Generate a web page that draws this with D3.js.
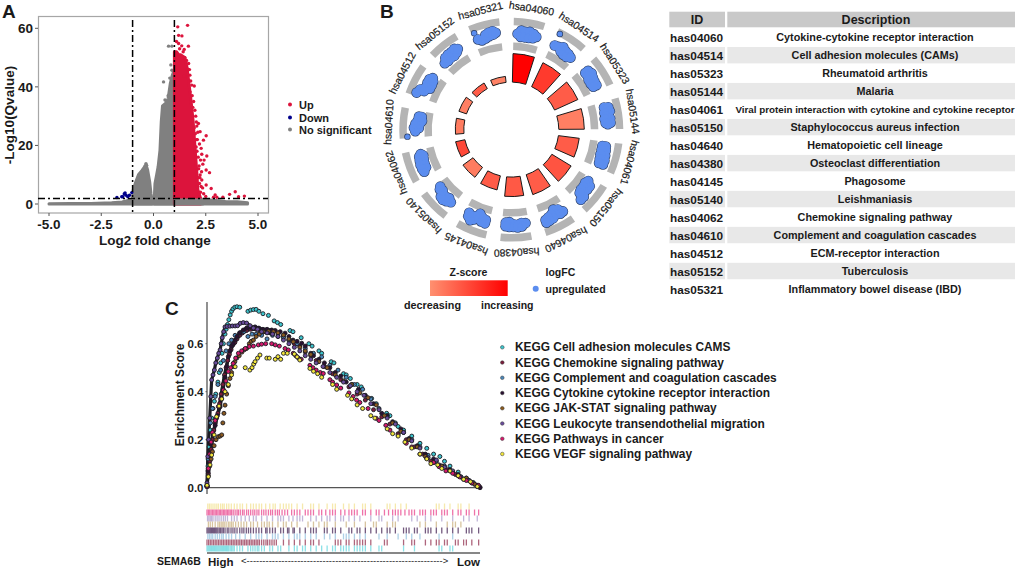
<!DOCTYPE html>
<html><head><meta charset="utf-8">
<script src="https://cdn.jsdelivr.net/npm/d3@7"></script>
<style>
html,body{margin:0;padding:0;background:#fff}
svg{display:block}
text{font-family:"Liberation Sans",Arial,sans-serif;fill:#1a1a1a}
.b{font-weight:700}
</style></head><body>
<svg id="c" width="1017" height="569"></svg>
<script>
// ---------- Panel A: volcano ----------
const volLegend = ["Up","Down","No significant"];
const volColors = ["#dc143c","#00008b","#808080"];
const baseX   = [-5,-4,-3,-2,-1.5,-1,0,1,1.5,2,2.5,3,3.5,4,4.5];
const baseTop = [0.1,0.15,0.2,0.4,0.7,1.6,1.2,1.9,1.9,1.8,1.5,1.2,0.8,0.8,0.4];
const hillLeftX   = [-1,-0.97,-0.85,-0.72,-0.55,-0.42,-0.36,-0.28,-0.18,-0.12,-0.08];
const hillLeftTop = [2,4.8,7.5,10,11.5,12.8,13.4,11.6,7.5,3.5,2];
const hillRightX   = [0.04,0.07,0.15,0.22,0.31,0.37,0.43,0.6,0.7,0.8,0.9,1];
const hillRightTop = [2.2,7,10,12.7,18.4,28,33.5,34.5,36,41,44,46];
const upX   = [1,1.1,1.2,1.3,1.4,1.5,1.6,1.7,1.8,1.9,2,2.08,2.12,2.25];
const upTop = [52,52,51,51,50.5,50,46.8,41,35,28,18,10,5,2];
const upPtsX = [1.16,1.63,1.2,1.36,1.2,1.67,1.47,1.72,1.47,1.83,1.95,1.75,2.15,2.07,2.52,2.39,2.23,2.04,2.31,2.55,2.36,2.68,2.52,2.23,2.76,2.52,2.31,2.95,2.87,3.64,3.91,4.07,4.35,3.32,3.03,2,2.1,2.2,2.28,2.25,2.18,2.3,2.15,2.2,2.35,2.25,2.4,2.5,2.02,1.98,2.05,1.92,1.85,1.78,1.65,1.58,1.5,1.42,1.35,1.1,1.25,2.12,2.42,1.95,2.08,2.14,2.06,2.22,2.16,2.28,2.1,1.88,1.74,1.68];
const upPtsY = [60.5,61,57.6,57.4,54.8,53.9,52.8,45.9,43.6,40.6,40.3,38.3,27.5,26.6,23.3,21.8,24.7,19.5,17,16.4,13.6,10.7,11.6,9.9,5.3,6.5,8.2,3.1,2.3,3.3,4.2,2.5,2.7,2.3,2.3,24,22,20.5,19,15,13,11,9,7,5.5,4,3.5,2.6,30,32,28,35,37,42,46,49,50,52,54,55.5,53,24.5,15,26,18,16,22,9,12,6,6,33,44,48];
const grayPtsX = [0.72,0.88,0.88,0.48,0.78,0.62,0.7,0.55,0.83,-0.36,-0.4,-0.33];
const grayPtsY = [53.9,53.9,45.7,41.7,43,35,37,35.5,47.5,13.8,13,13.2];
const downPtsX = [-1.75,-1.52,-1.4,-1.31,-1.47,-1.15,-1.04,-1.23,-1.36];
const downPtsY = [2.2,2.5,3.4,3,2.5,3,3.9,2.5,3.8];
const volXTicks = [-5,-2.5,0,2.5,5];
const volYTicks = [0,20,40,60];

// ---------- Panel B: circular plot ----------
const pathwayIds = ["hsa04060","hsa04514","hsa05323","hsa05144","hsa04061","hsa05150","hsa04640","hsa04380","hsa04145","hsa05140","hsa04062","hsa04610","hsa04512","hsa05152","hsa05321"];
const barHeights = [28.5,26.5,25.5,25.5,21,22.5,21,19.5,14.5,12.5,9.5,8.5,8,6.5,6];
const zScores = [1,0.6,0.36,0.12,0.36,0.42,0.36,0.38,0.36,0.14,0.5,0.14,0.12,0.36,0.1];
const blobs = [
 [[-.7,.5],[-.45,.75],[-.45,.3],[-.15,.7],[-.15,.3],[.15,.75],[.15,.3],[.45,.65],[.45,.35],[.68,.5]],
 [[-.8,1.3],[-.75,.4],[-.45,.45],[-.15,.6],[-.15,.25],[.15,.45],[.15,.15],[.45,.4],[.45,.15],[.72,.3]],
 [[-.6,.55],[-.6,.3],[-.3,.65],[-.3,.3],[0,.55],[0,.2],[.3,.5],[.3,.2],[.6,.5],[.6,.25]],
 [[-.6,.45],[-.55,.75],[-.25,.8],[-.2,.4],[.05,.5],[.25,.75],[.25,.35],[.55,.75],[.55,.4],[.65,.55]],
 [[-.65,.5],[-.65,.25],[-.35,.55],[-.35,.25],[0,.6],[0,.25],[.35,.65],[.35,.3],[.65,.65],[.65,.35]],
 [[-.7,.25],[-.45,.55],[-.45,.15],[-.15,.55],[-.15,.2],[.15,.5],[.15,.2],[.4,.7],[.4,.3],[.7,.7]],
 [[-.7,.55],[-.45,.25],[-.45,.6],[-.15,.1],[-.15,.5],[.15,.35],[.15,.65],[.45,.45],[.45,.7],[.7,.55],[.7,.75]],
 [[-.75,.4],[-.45,.35],[-.45,.6],[-.15,.45],[-.15,.65],[.15,.4],[.15,.6],[.45,.25],[.45,.6],[.72,.3],[.72,.55]],
 [[-.7,.35],[-.7,.6],[-.4,.25],[-.4,.55],[-.15,.3],[-.15,.05],[.15,.35],[.15,.6],[.35,.75],[.6,.55],[.65,.3]],
 [[-.7,.4],[-.4,.55],[-.4,.25],[-.15,.65],[-.15,.35],[.1,.35],[.1,.6],[.35,.2],[.55,.3],[.7,.15]],
 [[-.65,.55],[-.4,.3],[-.4,.6],[-.1,.3],[-.1,.6],[.2,.55],[.2,.25],[.5,.5],[.5,.2],[.65,.35]],
 [[-.9,1.08],[-.55,.5],[-.3,.6],[-.3,.25],[0,.5],[0,.2],[.25,.35],[.25,.05],[.55,.3],[.55,.1]],
 [[-.75,.9],[-.45,.75],[-.45,.45],[-.1,.45],[-.1,.15],[.2,.5],[.2,.15],[.5,.5],[.5,.2],[.7,.35]],
 [[-.8,.35],[-.5,.3],[-.5,.6],[-.2,.35],[-.2,.65],[.1,.3],[.1,.65],[.4,.4],[.4,.7],[.6,.55]],
 [[-.8,1.02],[-.7,.5],[-.45,.35],[-.15,.4],[-.1,.65],[.15,.5],[.15,.75],[.45,.55],[.45,.8],[.65,.65]]
];

// ---------- Table ----------
const tableIds = ["has04060","has04514","has05323","has05144","has04061","has05150","has04640","has04380","has04145","has05140","has04062","has04610","has04512","has05152","has05321"];
const tableDesc = ["Cytokine-cytokine receptor interaction","Cell adhesion molecules (CAMs)","Rheumatoid arthritis","Malaria","Viral protein interaction with cytokine and cytokine receptor","Staphylococcus aureus infection","Hematopoietic cell lineage","Osteoclast differentiation","Phagosome","Leishmaniasis","Chemokine signaling pathway","Complement and coagulation cascades","ECM-receptor interaction","Tuberculosis","Inflammatory bowel disease (IBD)"];

// ---------- Panel C: GSEA ----------
const gseaNames = ["KEGG Cell adhesion molecules CAMS","KEGG Chemokine signaling pathway","KEGG Complement and coagulation cascades","KEGG Cytokine cytokine receptor interaction","KEGG JAK-STAT signaling pathway","KEGG Leukocyte transendothelial migration","KEGG Pathways in cancer","KEGG VEGF signaling pathway"];
const gseaColors = ["#3cc4cc","#7b1e3c","#4a86b8","#2a1030","#8a5a1f","#6a4c9c","#d6186c","#f2e63a"];
const esCAM = [[0,.01],[.4,.09],[.8,.17],[1.2,.24],[1.7,.29],[2.2,.33],[2.7,.36],[3.2,.39],[4,.44],[4.5,.48],[5,.52],[5.5,.56],[6,.6],[6.6,.64],[7,.66],[7.5,.68],[8,.7],[8.5,.72],[9,.735],[9.5,.745],[10.2,.752],[11,.754],[12,.752],[15,.735],[16,.74],[17,.742],[18,.743],[19,.735],[20.5,.725],[22.5,.718],[24.6,.695],[25.8,.688],[27,.68],[30.4,.655],[31.5,.65],[34.5,.625],[37.3,.6],[38.5,.59],[41,.57],[42,.56],[45.5,.525],[46.5,.52],[50,.475],[51,.47],[52.5,.455],[55,.43],[56.5,.42],[60.3,.372],[62,.35],[65.8,.31],[67,.3],[70,.255],[72,.24],[75,.215],[78,.185],[80.5,.164],[83,.14],[85.3,.13],[87,.11],[89,.09],[92,.065],[95,.04],[97.5,.022],[99.5,.008]];
const esChemokine = [[0,.005],[.5,.06],[1,.11],[1.5,.16],[2,.2],[2.5,.24],[3,.27],[3.5,.29],[4,.31],[4.6,.35],[5.2,.39],[5.8,.43],[6.4,.47],[7,.5],[7.6,.53],[8.2,.555],[8.8,.575],[9.5,.595],[10.2,.605],[11,.62],[12,.635],[13,.645],[14.5,.655],[16,.66],[18,.66],[20,.655],[22,.65],[24,.645],[26,.64],[28,.63],[30,.615],[32,.6],[34,.59],[36,.565],[38,.55],[40,.53],[43,.505],[46,.475],[49,.45],[52,.42],[55,.39],[58,.365],[61,.325],[64,.295],[67,.265],[70,.225],[73,.2],[76,.17],[79,.14],[82,.11],[85,.095],[88,.075],[91,.055],[94,.035],[97,.02],[100,.002]];
const esComplement = [[0,.01],[.4,.12],[.8,.2],[1.3,.27],[2,.33],[3,.38],[4,.43],[5,.49],[6,.53],[7,.57],[8,.6],[9,.615],[10.3,.635],[12,.645],[13.5,.65],[15,.63],[16.5,.64],[18,.64],[20,.635],[22,.62],[24,.635],[26,.63],[28,.625],[30,.615],[33,.6],[36,.58],[39,.56],[42,.545],[45,.51],[48,.49],[51,.46],[54,.43],[57,.41],[60,.37],[63,.33],[66,.3],[69,.27],[72,.23],[75,.2],[78,.17],[81,.135],[84,.11],[87,.09],[90,.065],[93,.045],[96,.03],[99,.01]];
const esCytokine = [[0,.005],[.4,.07],[.9,.13],[1.5,.18],[2.2,.22],[3,.26],[3.8,.3],[4.8,.337],[5.3,.37],[5.9,.41],[6.6,.46],[7.2,.505],[7.8,.546],[8.4,.57],[9,.59],[9.6,.6],[10.3,.615],[11,.63],[12,.645],[13.3,.657],[14.5,.665],[16,.668],[17.6,.67],[19,.665],[20.5,.66],[22,.66],[23.7,.657],[25,.655],[26.8,.65],[28.6,.644],[30,.63],[31.5,.615],[33,.61],[34.7,.602],[36,.59],[38,.56],[39,.55],[41,.535],[43,.52],[45,.5],[47,.48],[49,.465],[51,.44],[53,.43],[55.5,.41],[58,.385],[61,.35],[64,.31],[66,.3],[68,.275],[71,.245],[74,.205],[77,.175],[80,.14],[83,.12],[86,.09],[89,.075],[92,.055],[95,.035],[98,.015],[100,0]];
const esJak = [[0,.005],[.5,.05],[1,.09],[1.5,.12],[2,.15],[2.6,.175],[3.3,.2],[4.15,.2125],[4.8,.215],[5.4,.22],[5.8,.27],[6.2,.31],[6.6,.344],[7.2,.39],[7.8,.425],[8.4,.455],[9,.48],[9.6,.505],[10.2,.525],[10.9,.54],[11.8,.55],[12.8,.565],[13.7,.575],[14.5,.58],[15.5,.6],[16.2,.61],[17,.615],[18,.63],[19.2,.64],[20.6,.65],[22.5,.652],[24.3,.65],[26,.645],[28,.636],[30,.62],[31.6,.608],[34,.585],[36,.57],[38,.555],[41,.525],[44,.5],[47,.47],[50,.445],[53,.43],[56,.395],[59,.375],[62,.345],[65,.3],[68,.27],[71,.235],[74,.2],[77,.17],[80,.13],[83,.105],[86,.09],[89,.07],[92,.05],[95,.04],[98,.015]];
const esLeukocyte = [[0,.02],[.3,.13],[.6,.2],[1,.29],[1.4,.38],[1.7,.449],[2.2,.47],[2.7,.49],[3.2,.52],[3.8,.54],[4.3,.56],[4.8,.574],[5.2,.6],[5.6,.625],[6.1,.65],[6.6,.67],[7.4,.672],[8.4,.673],[9.3,.674],[10.3,.674],[11.2,.675],[12.2,.685],[13.3,.688],[14.5,.686],[15.8,.675],[17,.665],[18.5,.66],[20,.65],[22,.645],[24,.64],[26,.63],[28,.615],[30,.6],[32,.585],[34,.57],[36,.55],[38,.535],[40,.52],[42.5,.505],[45,.48],[47.5,.46],[50,.44],[52.5,.425],[55,.4],[57.5,.385],[60,.35],[63,.325],[66,.29],[69,.265],[72,.23],[75,.195],[78,.165],[81,.125],[84,.115],[87,.085],[90,.07],[93,.045],[96,.03],[99,.005]];
const esCancer = [[0,.005],[.5,.08],[1,.14],[1.5,.19],[2,.23],[3,.28],[4.15,.338],[5,.37],[6,.407],[6.9,.445],[7.8,.484],[8.7,.5],[9.6,.518],[10.5,.54],[11.5,.56],[12.7,.57],[14,.58],[15.5,.588],[17,.59],[18.8,.595],[20,.598],[21.5,.6],[23.7,.6],[25,.595],[26.5,.59],[28.6,.58],[29.8,.574],[31.6,.56],[32.5,.55],[33.5,.54],[34.5,.535],[37.7,.51],[38.8,.5],[40,.49],[41.5,.48],[42.6,.476],[45,.45],[46,.44],[47.5,.428],[49,.415],[52,.395],[53.5,.38],[54.8,.365],[56,.355],[59,.33],[62,.289],[63,.28],[65.5,.26],[67,.24],[70,.22],[73,.185],[75,.17],[78,.14],[80.5,.122],[83,.105],[85,.0875],[87.5,.07],[90,.06],[92.5,.045],[95,.03],[97,.02],[99.4,.01]];
const esVegf = [[0,.01],[.5,.046],[1.1,.095],[1.7,.136],[2.6,.22],[3.5,.296],[4.4,.34],[5.4,.37],[6.6,.4],[7.8,.43],[9,.47],[10.3,.504],[14,.5],[15.7,.49],[16.5,.5],[17.1,.515],[17.6,.525],[18.5,.54],[19.4,.553],[21.9,.54],[22.8,.54],[25,.535],[26,.546],[27,.535],[28,.56],[29.4,.56],[32,.557],[33,.545],[34,.532],[37.7,.497],[39,.485],[40.5,.475],[42,.46],[46,.43],[47.5,.41],[51.5,.385],[53,.37],[55,.345],[57,.33],[60,.3],[61.5,.29],[66,.245],[68,.225],[70,.215],[72.5,.19],[75,.165],[78,.14],[80.5,.12],[82,.1],[84.5,.095],[86,.08],[89,.07],[92,.05],[94,.035],[96.5,.025],[99,.005]];
const esSeries = [esCAM,esChemokine,esComplement,esCytokine,esJak,esLeukocyte,esCancer,esVegf];
const esTicks = [0,0.2,0.4,0.6];

const rugVegf = [.3,.9,1.5,2.2,2.9,3.6,4.2,5,5.7,6.3,7.2,8,8.9,10,11,12.1,13,14.5,16,17,18,19.1,20,21.5,23,24.2,25,26.8,28,29,30,31,33,35,38,39,41,44,46,47,50,52,54,57,58,60,66,67,69,71,73,84,85,87,89,92,93,96];
const rugCancer = [0,.5,1,1.5,2,2.5,3,3.5,4,4.5,5,5.5,6,6.5,7,7.5,8,8.5,9,9.6,10.3,11,11.5,12.2,13,13.6,14.5,15.2,16,16.8,17.5,18.3,19,20,20.8,21.6,22.5,23.3,24,25,25.8,26.5,27.5,28.5,29.5,31,32,33,34,36,37,38,39,41,42,43.5,45,46,47,49,50.5,52,53,54,55,57,58,60,62,63,65,66.5,68,69,70,71,72.5,74,75,76,78,79,80,82,83,84,86,87,88,90,92,93,95,96,98,99.5];
const rugLeukocyte = [.2,.7,1.2,1.7,2.2,3,3.7,4.4,5.2,6,6.7,7.5,9,10,11,12.5,14,15.5,17,18,20,22,24,26,27,28,30,31.5,33,34,35,38,40,42,44,45,47,49,50,52,54,56,60,63,64,68,70,75,77,80,82,86,90,94,96,99];
const rugJak = [.5,1.2,2,3,4,4.6,5.2,5.8,6.3,7,7.8,8.4,9,9.6,10.5,11.5,12.5,13.5,14.5,16,17,18.5,20,21,22,22.8,24,26,28,29,31,33,37,39,41,43,44,47,51,54,58,61,62,66,68,69,78,80,84,88,90,91,93];
const rugCytokine = [0,.4,.8,1.2,1.6,2,2.4,2.8,3.2,3.6,4,4.5,5,5.5,6,6.6,7.4,8,8.8,9.5,10.2,11,12,12.8,13.5,14.4,15.2,16,17,18,19,20,21.5,22,23,24,25,27,28,29.5,30,31.5,32,34,36,38,39,40,43,44,46,47,49,52,53,55,56,58,60,62,64,66,67,69,72,73,74,76,77,80,81,82,84,86,88,90,92,95,96,97,99.5];
const rugComplement = [.3,.9,1.5,2.1,3,3.8,4.6,5.4,6,7,8,9,10.5,12,14,16,18,19,20,22,24,25,26,28,30,32,33,34,36,38,40,43,45,47,50,51,52,54,56,58,63,66,70,73,75,78,85,90];
const rugChemokine = [0,.6,1.2,1.8,2.4,3,3.6,4.2,4.8,5.4,6,6.6,7.2,7.8,8.4,9,9.6,10.2,10.8,11.4,12,12.6,13.2,13.8,14.4,15,15.6,16.2,16.8,17.4,18,18.6,19.2,20,20.8,21.6,22.2,23,23.8,24.6,25.4,28,30,32,34,36,38,39,41,47,48,49,51,52,54,55,56,57,58,60,65,66,72,75,76,80,82,84,85,87,88,91,92,94,95,97,99.5];
const rugCAM = [0,.4,.8,1.2,1.6,2,2.4,2.8,3.2,3.6,4,4.4,4.8,5.2,5.6,6,6.4,6.8,7.2,7.6,8,8.5,9,9.5,10,11,12,13,15,16,16.8,17.6,18.4,19,20,21,23,24,26,27,30,32,33,35,36,38,40,42,44,46,47,49,50,51,52,54,55,56,57,58,60,63,64,72,76,85,86,89,90];
const rugRows = [[rugVegf,"#f2e08a"],[rugCancer,"#ec5a9a"],[rugLeukocyte,"#a698c8"],[rugJak,"#c8ac78"],[rugCytokine,"#5c3f6a"],[rugComplement,"#8cbcdc"],[rugChemokine,"#a04a64"],[rugCAM,"#5cd4dc"]];

// ---------- Drawing ----------
const svg = d3.select("#c");
const bold = (g,x,y,t,fs,anchor)=>g.append("text").attr("class","b").attr("x",x).attr("y",y).attr("font-size",fs).attr("text-anchor",anchor||"start").text(t);

bold(svg,2,18,"A",19); bold(svg,380,18.3,"B",19); bold(svg,165,315,"C",19);

// Volcano
const vx = d3.scaleLinear().domain([-5,5]).range([49,258]);
const vy = d3.scaleLinear().domain([0,60]).range([204,28.3]);
const A = svg.append("g");
const area = (xs,ys,col)=>{
  const pts = xs.map((x,i)=>[x,ys[i]]);
  A.append("path").datum(pts)
   .attr("d",d3.area().x(d=>vx(d[0])).y0(vy(0)).y1(d=>vy(d[1])))
   .attr("fill",col).attr("stroke",col).attr("stroke-width",3).attr("stroke-linejoin","round");
};
const dots = (xs,ys,col)=>A.selectAll(null).data(xs.map((x,i)=>[x,ys[i]])).join("circle")
   .attr("cx",d=>vx(d[0])).attr("cy",d=>vy(d[1])).attr("r",1.7).attr("fill",col);
area(baseX,baseTop,volColors[2]);
area(hillLeftX,hillLeftTop,volColors[2]);
area(hillRightX,hillRightTop,volColors[2]);
dots(grayPtsX,grayPtsY,volColors[2]);
area(upX,upTop,volColors[0]);
A.append("rect").attr("x",vx(0.95)).attr("width",vx(2.4)-vx(0.95)).attr("y",vy(1.9)).attr("height",vy(0)-vy(1.9)+1.5).attr("fill",volColors[2]);
dots(upPtsX,upPtsY,volColors[0]);
dots(downPtsX,downPtsY,volColors[1]);
A.append("rect").attr("x",38.5).attr("y",16.5).attr("width",230).attr("height",196.5).attr("fill","none").attr("stroke","#a6a6a6").attr("stroke-width",1.2);
const dash="7,3,2,3";
[-1,1].forEach(v=>A.append("line").attr("x1",vx(v)).attr("x2",vx(v)).attr("y1",20).attr("y2",213).attr("stroke","#000").attr("stroke-width",1.5).attr("stroke-dasharray",dash));
A.append("line").attr("x1",38).attr("x2",268).attr("y1",vy(1.9)).attr("y2",vy(1.9)).attr("stroke","#000").attr("stroke-width",1.5).attr("stroke-dasharray",dash);
volXTicks.forEach(t=>{
  A.append("line").attr("x1",vx(t)).attr("x2",vx(t)).attr("y1",213).attr("y2",216).attr("stroke","#555");
  bold(A,vx(t),229,t.toFixed(1),13.5,"middle");
});
volYTicks.forEach(t=>{
  A.append("line").attr("x1",35).attr("x2",38).attr("y1",vy(t)).attr("y2",vy(t)).attr("stroke","#555");
  bold(A,33,vy(t)+4.7,t,13.5,"end");
});
bold(A,155,245,"Log2 fold change",13.5,"middle");
A.append("text").attr("class","b").attr("transform","translate(13.5,115) rotate(-90)").attr("text-anchor","middle").attr("font-size",13.5).text("-Log10(Qvalue)");
volLegend.forEach((t,i)=>{
  const y=[104.5,117.5,129.5][i];
  A.append("circle").attr("cx",290).attr("cy",y).attr("r",2).attr("fill",volColors[i]);
  bold(A,299,y+4,t,11);
});

// Circular plot
const rad = d=>d*Math.PI/180;
const sectorAngle = d3.scaleLinear().domain([0,14]).range([9.5,345.5]);
const barR = d3.scaleLinear().domain([0,30]).range([47.5,77.5]);
const zColor = d3.scaleLinear().domain([0,1]).range(["#ff9070","#ff0000"]);
const circ = svg.append("g").attr("transform","translate(511.3,129.6)");
circ.selectAll("path.bar").data(barHeights).join("path").attr("class","bar")
  .attr("d",(d,i)=>d3.arc()({innerRadius:barR(0),outerRadius:barR(d),startAngle:rad(sectorAngle(i)-8.2),endAngle:rad(sectorAngle(i)+8.2)}))
  .attr("fill",(d,i)=>zColor(zScores[i])).attr("stroke","#1a1a1a").attr("stroke-width",1);
const blobR = d3.scaleLinear().domain([0,1]).range([89,103]);
pathwayIds.forEach((id,i)=>{
  const a=sectorAngle(i);
  [[104.5,112],[79.5,87]].forEach(([r0,r1])=>circ.append("path")
    .attr("d",d3.arc()({innerRadius:r0,outerRadius:r1,startAngle:rad(a-8.2),endAngle:rad(a+8.2)}))
    .attr("fill","#b4b4b4"));
  const pts=blobs[i].map(([p,v])=>{
    const th=rad(a+p*8.2), r=blobR(v);
    return [r*Math.sin(th),-r*Math.cos(th),p,v];
  });
  circ.selectAll(null).data(pts).join("circle").attr("cx",d=>d[0]).attr("cy",d=>d[1]).attr("r",d=>d[3]>.95?3.2:5.3).attr("fill","#2b3f66");
  circ.selectAll(null).data(pts).join("circle").attr("cx",d=>d[0]).attr("cy",d=>d[1]).attr("r",d=>d[3]>.95?2.5:4.7).attr("fill","#5b8def");
  const lx=122*Math.sin(rad(a)), ly=-122*Math.cos(rad(a));
  circ.append("text").attr("transform",`translate(${lx},${ly}) rotate(${a})`).attr("text-anchor","middle").attr("dominant-baseline","middle").attr("font-size",10.4).attr("stroke","#1a1a1a").attr("stroke-width",.2).text(id);
});
const defs=svg.append("defs");
const lg=defs.append("linearGradient").attr("id","zg");
lg.append("stop").attr("offset","0").attr("stop-color","#ff9070");
lg.append("stop").attr("offset","1").attr("stop-color","#ff0000");
const blur=defs.append("filter").attr("id","soft").attr("x","-2%").attr("y","-5%").attr("width","104%").attr("height","110%");
blur.append("feGaussianBlur").attr("stdDeviation",0.5);
svg.append("rect").attr("x",430).attr("y",280.3).attr("width",77.7).attr("height",15.7).attr("fill","url(#zg)");
bold(svg,468.5,276,"Z-score",10.5,"middle");
bold(svg,545.5,276,"logFC",10.5);
svg.append("circle").attr("cx",535.7).attr("cy",288.7).attr("r",3).attr("fill","#5b8def");
bold(svg,545.5,292.7,"upregulated",10.5);
bold(svg,404,308.7,"decreasing",10.8);
bold(svg,481,308.7,"increasing",10.5);

// Table
const rowY = d3.scalePoint().domain(tableIds).range([37.7,289.5]);
const T = svg.append("g");
T.append("rect").attr("x",669.3).attr("y",11.7).attr("width",55.7).attr("height",15.6).attr("fill","#c9c9c9");
T.append("rect").attr("x",727.3).attr("y",11.7).attr("width",287.7).attr("height",15.6).attr("fill","#c9c9c9");
bold(T,697,24,"ID",12.5,"middle");
bold(T,876,24,"Description",12.5,"middle");
tableIds.forEach((id,i)=>{
  const y=rowY(id);
  if(i%2==1&&i<14){
    T.append("rect").attr("x",669.3).attr("y",y-8.7).attr("width",55.7).attr("height",16.4).attr("fill","#e8e8e8");
    T.append("rect").attr("x",727.3).attr("y",y-8.7).attr("width",287.7).attr("height",16.4).attr("fill","#e8e8e8");
  }
  bold(T,670,y+4,id,11.8);
  bold(T,875,y+3.5,tableDesc[i],tableDesc[i].length>50?9.8:10.8,"middle");
});

// GSEA
const gx = d3.scaleLinear().domain([0,100]).range([207,480]);
const gy = d3.scaleLinear().domain([0,0.6]).range([487.7,343.7]);
const C = svg.append("g");
C.append("line").attr("x1",207).attr("x2",207).attr("y1",302).attr("y2",494).attr("stroke","#555").attr("stroke-width",1.3);
C.append("line").attr("x1",207).attr("x2",480).attr("y1",487.7).attr("y2",487.7).attr("stroke","#555").attr("stroke-width",1.3);
esTicks.forEach(t=>{
  C.append("line").attr("x1",205.5).attr("x2",207).attr("y1",gy(t)).attr("y2",gy(t)).attr("stroke","#555");
  bold(C,203.5,gy(t)+4.2,t.toFixed(1),11.5,"end");
});
C.append("text").attr("class","b").attr("transform","translate(184,395) rotate(-90)").attr("text-anchor","middle").attr("font-size",12).text("Enrichment Score");
const esLine = d3.line().x(d=>gx(d[0])).y(d=>gy(d[1]));
[1,3,5].forEach(i=>{
  C.append("path").attr("d",esLine(esSeries[i].filter(d=>d[0]<26))).attr("fill","none").attr("stroke","#1c1c24").attr("stroke-width",3.2);
});
esSeries.forEach((s,i)=>{
  C.selectAll(null).data(s).join("circle")
   .attr("cx",d=>gx(d[0])).attr("cy",d=>gy(d[1])).attr("r",2)
   .attr("fill",gseaColors[i]).attr("stroke","#1c1c24").attr("stroke-width",.9);
});
gseaNames.forEach((n,i)=>{
  const y=347.3+i*15.24;
  C.append("circle").attr("cx",502.3).attr("cy",y).attr("r",1.8).attr("fill",gseaColors[i]).attr("stroke","#333").attr("stroke-width",.5);
  bold(C,515,y+4,n,11.9);
});
const rugG = C.append("g").attr("filter","url(#soft)");
rugRows.forEach(([vals,col],i)=>{
  rugG.selectAll(null).data(vals).join("line")
   .attr("x1",d=>gx(d)).attr("x2",d=>gx(d)).attr("y1",503.5+i*6).attr("y2",509.5+i*6)
   .attr("stroke",col).attr("stroke-width",1.3).attr("opacity",i==1||i==4||i==6?.85:.7);
});
C.append("line").attr("x1",207).attr("x2",480).attr("y1",553).attr("y2",553).attr("stroke","#111").attr("stroke-width",1.2);
bold(C,157,565,"SEMA6B",10.5);
bold(C,208,565.5,"High",11.5);
bold(C,457,565.5,"Low",11.5);
C.append("text").attr("x",241).attr("y",563.5).attr("font-size",9.5).text("<"+"-".repeat(62)+">");
</script>
</body></html>
